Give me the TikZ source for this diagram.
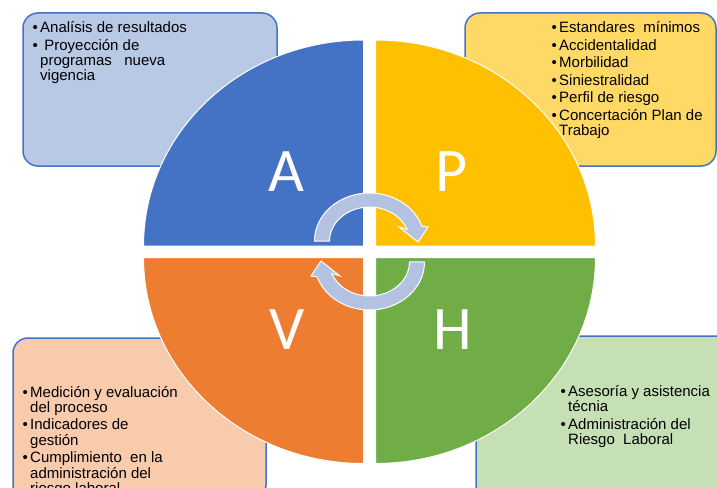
\documentclass[tikz,border=0pt]{standalone}
\usepackage{fontspec}
\setmainfont{Liberation Sans}
\newfontfamily\bigfont{Carlito}
\definecolor{qblue}{HTML}{4472C4}
\definecolor{qyellow}{HTML}{FFC000}
\definecolor{qorange}{HTML}{ED7D31}
\definecolor{qgreen}{HTML}{70AD47}
\definecolor{bblue}{HTML}{B8C9E6}
\definecolor{byellow}{HTML}{FFD966}
\definecolor{borange}{HTML}{F8CBAD}
\definecolor{bgreen}{HTML}{C5E0B4}
\definecolor{afill}{HTML}{B4C2E2}
\newcommand\bl{\makebox[7.5pt][l]{\textbullet}}
\begin{document}
\begin{tikzpicture}[x=1pt,y=-1pt,
  infobox/.style={draw=qblue, line width=1.5pt, rounded corners=15pt},
  quad/.style={draw=white, line width=1pt},
  cyc/.style={fill=afill, draw=white, line width=1pt},
  letter/.style={text=white, inner sep=0pt, font=\bigfont\fontsize{62}{62}\selectfont},
  txt/.style={inner sep=0pt, anchor=base west, font=\fontsize{15}{15}\selectfont}]
\useasboundingbox (0,0) rectangle (717,487);
\clip (0,0) rectangle (717,487);
% boxes
\path[infobox, fill=bblue]   (23,13) rectangle (277,166);
\path[infobox, fill=byellow] (465,13) rectangle (716,166);
\path[infobox, fill=borange] (13,338) rectangle (266,500);
\path[infobox, fill=bgreen]  (476,336) rectangle (735,500);
% quadrants
\path[quad, fill=qblue]   (363.5,246) -- ++(-220,0) arc[start angle=180,end angle=270,x radius=220,y radius=206] -- cycle;
\path[quad, fill=qyellow] (375.5,246) -- ++(0,-206) arc[start angle=270,end angle=360,x radius=220,y radius=206] -- cycle;
\path[quad, fill=qorange] (363.5,257.5) -- ++(0,206) arc[start angle=90,end angle=180,x radius=220,y radius=206] -- cycle;
\path[quad, fill=qgreen]  (375.5,257.5) -- ++(220,0) arc[start angle=0,end angle=90,x radius=220,y radius=206] -- cycle;
% cycle arrows
\path[cyc] (314.5,241) arc[start angle=180,end angle=342,x radius=55,y radius=48] -- (428,227) -- (418,242) -- (399,227) -- (407.1,229.4) arc[start angle=340,end angle=180,x radius=40,y radius=34] -- cycle;
\path[cyc, rotate around={180:(369.5,251.5)}] (314.5,241) arc[start angle=180,end angle=342,x radius=55,y radius=48] -- (428,227) -- (418,242) -- (399,227) -- (407.1,229.4) arc[start angle=340,end angle=180,x radius=40,y radius=34] -- cycle;
% letters
\node[letter] (A) at (286,172) {A};
\node[letter] (P) at (452,172) {P};
\node[letter] (V) at (287,330) {V};
\node[letter] (H) at (453,330) {H};
% texts
\node[txt] (tl) at (32.5,33) {\begin{tabular}[t]{@{}l@{}l@{}}
\bl & Analísis de resultados\\[2pt]
\bl & \ Proyección de\\
 & programas \ \ nueva\\
 & vigencia
\end{tabular}};
\node[txt] (tr) at (551.5,33) {\begin{tabular}[t]{@{}l@{}l@{}}
\bl & Estandares \ mínimos\\[2pt]
\bl & Accidentalidad\\[2pt]
\bl & Morbilidad\\[2pt]
\bl & Siniestralidad\\[2pt]
\bl & Perfil de riesgo\\[2pt]
\bl & Concertación Plan de\\
 & Trabajo
\end{tabular}};
\node[txt] (bll) at (22.5,397) {\begin{tabular}[t]{@{}l@{}l@{}}
\bl & Medición y evaluación\\
 & del proceso\\[2pt]
\bl & Indicadores de\\
 & gestión\\[2pt]
\bl & Cumplimiento \ en la\\
 & administración del\\
 & riesgo laboral
\end{tabular}};
\node[txt] (br) at (560.5,396) {\begin{tabular}[t]{@{}l@{}l@{}}
\bl & Asesoría y asistencia\\
 & técnia\\[2pt]
\bl & Administración del\\
 & Riesgo \ Laboral
\end{tabular}};
\end{tikzpicture}
\end{document}
